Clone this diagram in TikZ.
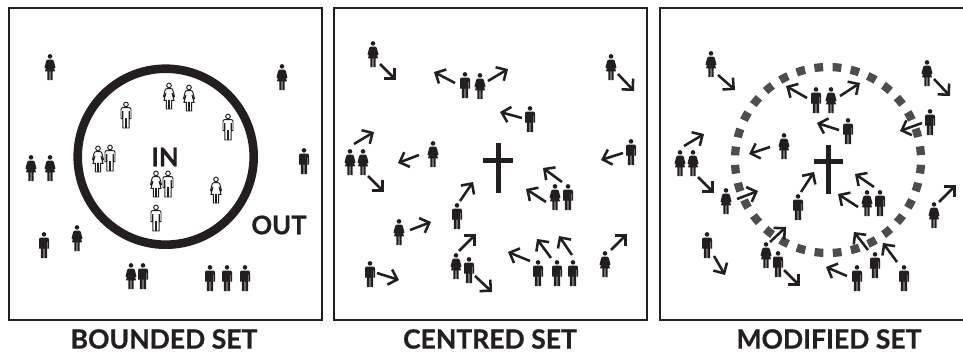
\documentclass[tikz,border=0pt]{standalone}
\usepackage{fontspec}
\setmainfont{Lato}
\newfontfamily\heavyfont{Lato}[BoldFeatures={FakeBold=0.7}]
\usetikzlibrary{arrows.meta}
\definecolor{ink}{HTML}{231F20}
\definecolor{ringgrey}{HTML}{4D4D4D}
\tikzset{
  frameline/.style={draw=ink,line width=1.2pt},
  outsider/.style={fill=ink},
  insider/.style={fill=white,draw=ink,line width=.55pt},
  moveline/.style={draw=ink,line width=1.45pt,-{Straight Barb[length=4.5pt,width=9pt]}},
  settitle/.style={text=ink,font=\fontsize{15.1}{17}\heavyfont\bfseries},
  setword/.style={text=ink,font=\fontsize{14.6}{16}\heavyfont\bfseries},
  man/.pic={
    \path[pic actions] (0,2.4) circle (2.3);
    \path[pic actions] (-3.2,5.6) -- (3.2,5.6) .. controls (4.4,5.6) and (5,6.4) .. (5,7.6) -- (5,16.6) -- (3.5,16.6) -- (3.5,9.5) -- (3.1,9.5) -- (3.1,26) -- (.3,26) -- (.3,16.6) -- (-.3,16.6) -- (-.3,26) -- (-3.1,26) -- (-3.1,9.5) -- (-3.5,9.5) -- (-3.5,16.6) -- (-5,16.6) -- (-5,7.6) .. controls (-5,6.4) and (-4.4,5.6) .. (-3.2,5.6) -- cycle;
  },
  woman/.pic={
    \path[pic actions] (0,2.4) circle (2.3);
    \path[pic actions] (-2,5.6) -- (2,5.6) .. controls (3.2,5.6) and (3.6,6.4) .. (4,7.6) -- (5.5,13.6) -- (4.4,14.2) -- (3,10) -- (5,17.4) -- (2.6,17.4) -- (2.6,26) -- (.3,26) -- (.3,17.4) -- (-.3,17.4) -- (-.3,26) -- (-2.6,26) -- (-2.6,17.4) -- (-5,17.4) -- (-3,10) -- (-4.4,14.2) -- (-5.5,13.6) -- (-4,7.6) .. controls (-3.6,6.4) and (-3.2,5.6) .. (-2,5.6) -- cycle;
  },
}
\begin{document}
\begin{tikzpicture}[x=0.02cm,y=-0.02cm]
  \useasboundingbox (0,0) rectangle (963,352);

  %first box
  \draw[frameline] (9,8) rectangle (322,320);
  \draw[draw=ink,line width=4.9pt] (165.7,156.7) circle (88);
  \node[setword] (inword) at (165,157) {IN};
  \node[setword] (outword) at (279,225) {OUT};
  \node[settitle] (boundedtitle) at (164,339) {BOUNDED SET};
  %people outside the circle
  \pic[outsider] at (50,54) {woman};
  \pic[outsider] at (282,64) {woman};
  \pic[outsider] at (31,155) {woman};
  \pic[outsider] at (50,155) {woman};
  \pic[outsider] at (304,148) {man};
  \pic[outsider] at (44,232) {man};
  \pic[outsider] at (77,225) {woman};
  \pic[outsider] at (131,263) {woman};
  \pic[outsider] at (143,263) {man};
  \pic[outsider] at (210,265) {man};
  \pic[outsider] at (227,265) {man};
  \pic[outsider] at (245,265) {man};
  %people inside the circle
  \pic[insider] at (169,83) {woman};
  \pic[insider] at (189,85) {woman};
  \pic[insider] at (126,102) {man};
  \pic[insider] at (228,114) {man};
  \pic[insider] at (98,146) {woman};
  \pic[insider] at (110,145) {man};
  \pic[insider] at (156,171) {woman};
  \pic[insider] at (168,171) {man};
  \pic[insider] at (216,177) {woman};
  \pic[insider] at (156,205) {man};

  %second box
  \draw[frameline] (334,8) rectangle (647,320);
  \fill[ink] (495.5,143) rectangle (500.5,193);
  \fill[ink] (483,157.5) rectangle (513,162.5);
  \node[settitle] (centredtitle) at (490,339) {CENTRED SET};
  %people
  \pic[outsider] at (373,41) {woman};
  \pic[outsider] at (465,72) {man};
  \pic[outsider] at (480,73) {woman};
  \pic[outsider] at (611,54) {woman};
  \pic[outsider] at (530,106) {man};
  \pic[outsider] at (350,149) {woman};
  \pic[outsider] at (363,149) {woman};
  \pic[outsider] at (433,141) {woman};
  \pic[outsider] at (631,139) {man};
  \pic[outsider] at (555,184) {woman};
  \pic[outsider] at (568,184) {man};
  \pic[outsider] at (457,203) {man};
  \pic[outsider] at (399,219) {woman};
  \pic[outsider] at (456,253) {woman};
  \pic[outsider] at (469,257) {man};
  \pic[outsider] at (370,261) {man};
  \pic[outsider] at (538,260) {man};
  \pic[outsider] at (557,260) {man};
  \pic[outsider] at (573,260) {man};
  \pic[outsider] at (605,251) {woman};
  %arrows
  \draw[moveline] (380,64) -- (396,80);
  \draw[moveline] (455,83) -- (434,72);
  \draw[moveline] (488,81) -- (508,69);
  \draw[moveline] (618,74) -- (634,91);
  \draw[moveline] (522,118) -- (500,112);
  \draw[moveline] (354,144) -- (374,132);
  \draw[moveline] (368,176) -- (384,192);
  \draw[moveline] (419,155) -- (398,163);
  \draw[moveline] (623,153) -- (601,160);
  \draw[moveline] (562,182) -- (543,168);
  \draw[moveline] (546,202) -- (526,189);
  \draw[moveline] (460,201) -- (473,182);
  \draw[moveline] (410,230) -- (431,222);
  \draw[moveline] (459,251) -- (476,234);
  \draw[moveline] (475,276) -- (492,292);
  \draw[moveline] (377,273) -- (399,280);
  \draw[moveline] (530,261) -- (508,252);
  \draw[moveline] (551,258) -- (537,239);
  \draw[moveline] (572,255) -- (559,236);
  \draw[moveline] (611,250) -- (627,234);

  %third box
  \draw[frameline] (963,8) -- (660,8) -- (660,320) -- (963,320);
  \draw[draw=ringgrey,line width=4.7pt,dash pattern=on 5pt off 5.39pt,dash phase=7.695pt] (828,160) circle (93);
  \fill[ink] (825.5,145) rectangle (830.5,194);
  \fill[ink] (814,158.5) rectangle (843,163.5);
  \node[settitle] (modifiedtitle) at (829,339) {MODIFIED SET};
  %people
  \pic[outsider] at (711,51) {woman};
  \pic[outsider] at (816,87) {man};
  \pic[outsider] at (831,87) {woman};
  \pic[outsider] at (927,60) {woman};
  \pic[outsider] at (930,109) {man};
  \pic[outsider] at (848,118) {man};
  \pic[outsider] at (784,133) {woman};
  \pic[outsider] at (680,150) {woman};
  \pic[outsider] at (693,150) {woman};
  \pic[outsider] at (867,190) {woman};
  \pic[outsider] at (880,190) {man};
  \pic[outsider] at (798,194) {man};
  \pic[outsider] at (726,188) {woman};
  \pic[outsider] at (707,232) {man};
  \pic[outsider] at (766,242) {woman};
  \pic[outsider] at (778,251) {man};
  \pic[outsider] at (857,265) {man};
  \pic[outsider] at (875,252) {man};
  \pic[outsider] at (904,265) {man};
  \pic[outsider] at (934,202) {woman};
  %arrows
  \draw[moveline] (718,75) -- (735,90);
  \draw[moveline] (807,98) -- (786,86);
  \draw[moveline] (840,96) -- (860,83);
  \draw[moveline] (934,79) -- (950,96);
  \draw[moveline] (922,123) -- (900,131);
  \draw[moveline] (839,130) -- (817,123);
  \draw[moveline] (770,147) -- (749,154);
  \draw[moveline] (684,146) -- (704,134);
  \draw[moveline] (698,177) -- (714,193);
  \draw[moveline] (874,187) -- (855,174);
  \draw[moveline] (858,207) -- (838,194);
  \draw[moveline] (801,192) -- (814,172);
  \draw[moveline] (737,199) -- (758,191);
  \draw[moveline] (714,256) -- (725,275);
  \draw[moveline] (770,242) -- (786,227);
  \draw[moveline] (784,270) -- (800,286);
  \draw[moveline] (847,276) -- (826,267);
  \draw[moveline] (868,250) -- (854,232);
  \draw[moveline] (897,262) -- (883,243);
  \draw[moveline] (939,202) -- (956,185);
\end{tikzpicture}
\end{document}
